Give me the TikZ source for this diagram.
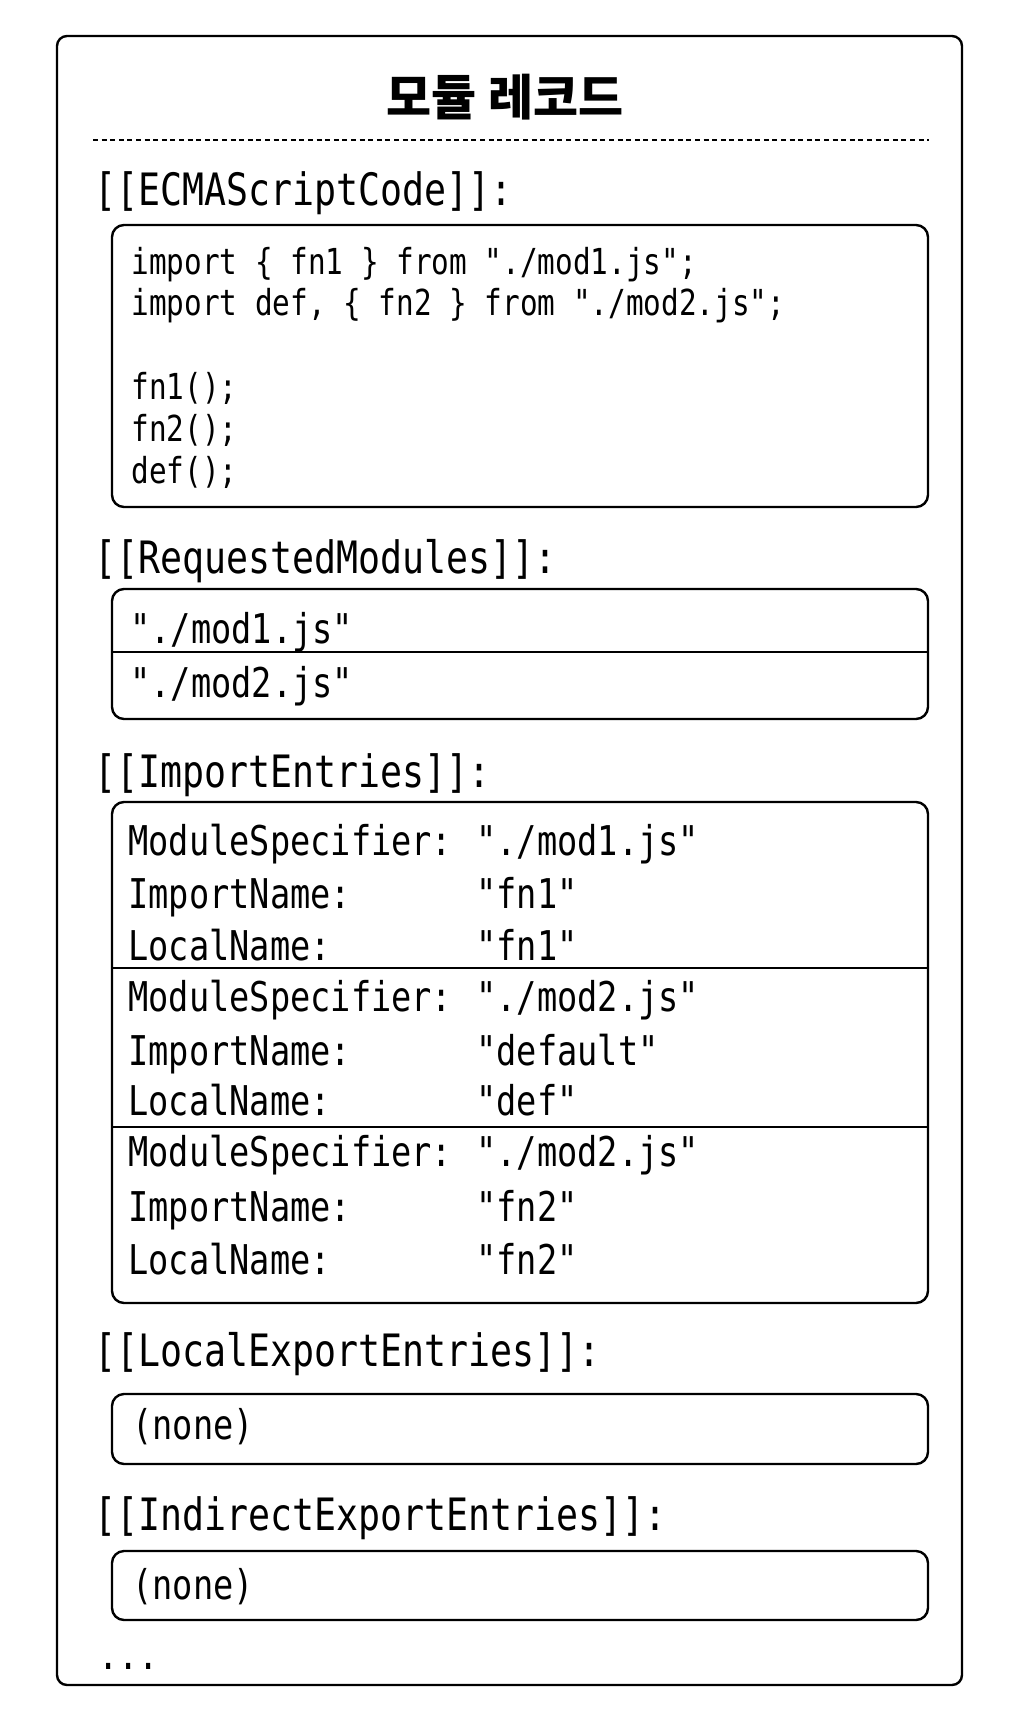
\documentclass[tikz,border=0pt]{standalone}
\usepackage{fontspec}
\newfontfamily\codefont[FakeStretch=0.82]{DejaVu Sans Mono}
\newfontfamily\titlefont{Noto Sans CJK KR}
\usepackage{tikz}
\usetikzlibrary{positioning}
\tikzstyle{outerbox}=[draw,line width=1.2pt,rounded corners=5pt]
\tikzstyle{fieldbox}=[draw,line width=1.2pt,rounded corners=6pt]
\tikzstyle{divider}=[draw,line width=1.2pt]
\tikzstyle{dashsep}=[draw,line width=0.7pt,dash pattern=on 2.5pt off 1.8pt]
\tikzstyle{recordtitle}=[inner sep=0pt,font=\titlefont\bfseries\fontsize{24.5}{28}\selectfont,text height=18.6pt,text depth=0pt]
\tikzstyle{fieldname}=[anchor=west,inner sep=0pt,font=\codefont\fontsize{22.3}{25}\selectfont,text height=16.2pt,text depth=0pt]
\tikzstyle{codeline}=[anchor=west,inner sep=0pt,font=\codefont\fontsize{17.9}{20}\selectfont,text height=13pt,text depth=0pt]
\tikzstyle{entry}=[anchor=west,inner sep=0pt,font=\codefont\fontsize{20.5}{23}\selectfont,text height=14.9pt,text depth=0pt]

\begin{document}
\begin{tikzpicture}[x=0.5pt,y=-0.5pt]
\useasboundingbox (0,0) rectangle (1025,1720);
\draw[outerbox] (57,36) rectangle (962,1685);
\node[recordtitle] (title) at (505,97) {모듈 레코드};
\draw[dashsep] (93,140) -- (929,140);

\node[fieldname] (hcode) at (94,189) {[[ECMAScriptCode]]:};
\draw[fieldbox] (112,225) rectangle (928,507);
\node[codeline] (c1) at (131,261) {import \{ fn1 \} from "./mod1.js";};
\node[codeline] (c2) at (131,302) {import def, \{ fn2 \} from "./mod2.js";};
\node[codeline] (c3) at (131,386) {fn1();};
\node[codeline] (c4) at (131,428) {fn2();};
\node[codeline] (c5) at (131,470) {def();};

\node[fieldname] (hreq) at (94,557) {[[RequestedModules]]:};
\draw[fieldbox] (112,589) rectangle (928,719);
\draw[divider] (112,652) -- (928,652);
\node[entry] (r1) at (130,629) {"./mod1.js"};
\node[entry] (r2) at (130,683) {"./mod2.js"};

\node[fieldname] (himp) at (94,771) {[[ImportEntries]]:};
\draw[fieldbox] (112,802) rectangle (928,1303);
\draw[divider] (112,968) -- (928,968);
\draw[divider] (112,1127) -- (928,1127);
\node[entry] (spec1) at (128,841) {ModuleSpecifier:};
\node[entry] (imp1) at (128,894) {ImportName:};
\node[entry] (loc1) at (128,946) {LocalName:};
\node[entry] (spec1v) at (476,841) {"./mod1.js"};
\node[entry] (imp1v) at (476,894) {"fn1"};
\node[entry] (loc1v) at (476,946) {"fn1"};
\node[entry] (spec2) at (128,997) {ModuleSpecifier:};
\node[entry] (imp2) at (128,1051) {ImportName:};
\node[entry] (loc2) at (128,1101) {LocalName:};
\node[entry] (spec2v) at (476,997) {"./mod2.js"};
\node[entry] (imp2v) at (476,1051) {"default"};
\node[entry] (loc2v) at (476,1101) {"def"};
\node[entry] (spec3) at (128,1152) {ModuleSpecifier:};
\node[entry] (imp3) at (128,1207) {ImportName:};
\node[entry] (loc3) at (128,1260) {LocalName:};
\node[entry] (spec3v) at (476,1152) {"./mod2.js"};
\node[entry] (imp3v) at (476,1207) {"fn2"};
\node[entry] (loc3v) at (476,1260) {"fn2"};

\node[fieldname] (hlocal) at (94,1350) {[[LocalExportEntries]]:};
\draw[fieldbox] (112,1394) rectangle (928,1464);
\node[entry] (nlocal) at (132,1425) {(none)};

\node[fieldname] (hind) at (94,1514) {[[IndirectExportEntries]]:};
\draw[fieldbox] (112,1551) rectangle (928,1620);
\node[entry] (nind) at (132,1585) {(none)};

\node[entry] (more) at (98,1655) {...};
\end{tikzpicture}
\end{document}
